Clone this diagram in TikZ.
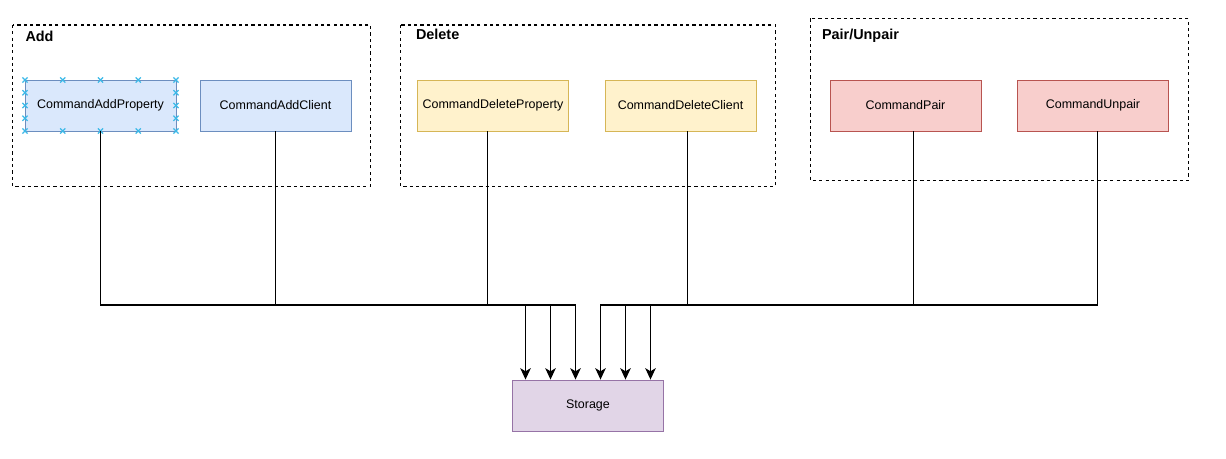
\documentclass[tikz,border=0pt]{standalone}
\usepackage{fontspec}
\setmainfont{Liberation Sans}
\usetikzlibrary{arrows.meta}
\definecolor{addfill}{HTML}{DAE8FC}
\definecolor{addline}{HTML}{6C8EBF}
\definecolor{delfill}{HTML}{FFF2CC}
\definecolor{delline}{HTML}{D6B656}
\definecolor{pairfill}{HTML}{F8CECC}
\definecolor{pairline}{HTML}{B85450}
\definecolor{storefill}{HTML}{E1D5E7}
\definecolor{storeline}{HTML}{9673A6}
\definecolor{selblue}{RGB}{60, 185, 232}
\def\boxw{3.02cm}
\def\boxh{1.02cm}
\newcommand{\selmark}[2]{\draw[selblue, line width=0.65pt] (#1-2.6,#2-2.6) -- (#1+2.6,#2+2.6) (#1-2.6,#2+2.6) -- (#1+2.6,#2-2.6);}

\begin{document}
\begin{tikzpicture}[x=0.02cm, y=-0.02cm, line width=0.6pt,
    cmd/.style={draw, line width=0.5pt, minimum width=\boxw, minimum height=\boxh, inner sep=0pt, font=\fontsize{7.1}{8}\selectfont},
    group/.style={draw, dash pattern=on 1.8pt off 1.8pt, line width=0.65pt},
    grouplabel/.style={anchor=base west, inner sep=0pt, font=\fontsize{8.2}{10}\selectfont\bfseries},
    link/.style={-{Stealth[length=6.5pt, width=6pt, inset=1.8pt]}, line width=0.7pt}]

    \useasboundingbox (0,0) rectangle (1226,459);

    % groups
    \draw[group] (12.5,25) rectangle (370.5,186.5);
    \draw[group] (400.5,25) rectangle (775.5,186.5);
    \draw[group] (810.5,18.5) rectangle (1188.5,180.5);

    \node[grouplabel] (addlbl) at (25,41.5) {Add};
    \node[grouplabel] (dellbl) at (415.5,40) {Delete};
    \node[grouplabel] (pairlbl) at (821.5,40) {Pair/Unpair};

    % commands
    \node[cmd, fill=addfill, draw=addline] (addprop) at (100.5,105.5) {CommandAddProperty};
    \node[cmd, fill=addfill, draw=addline] (addclient) at (275.5,105.5) {CommandAddClient};
    \node[cmd, fill=delfill, draw=delline] (delprop) at (493,105.5) {CommandDeleteProperty};
    \node[cmd, fill=delfill, draw=delline] (delclient) at (680.5,105.5) {CommandDeleteClient};
    \node[cmd, fill=pairfill, draw=pairline] (pair) at (905.5,105.5) {CommandPair};
    \node[cmd, fill=pairfill, draw=pairline] (unpair) at (1093,105.5) {CommandUnpair};

    \node[cmd, fill=storefill, draw=storeline] (store) at (588,405.5) {Storage};

    % selection handles
    \foreach \x in {25,62.75,100.5,138.25,176} {
        \selmark{\x}{80}
        \selmark{\x}{131}
    }
    \foreach \y in {92.75,105.5,118.25} {
        \selmark{25}{\y}
        \selmark{176}{\y}
    }

    % links
    \coordinate (bus) at (0,305);
    \draw[link] (addprop.south) |- ([xshift=-1.25cm]store.north |- bus) -- ([xshift=-1.25cm]store.north);
    \draw[link] (addclient.south) |- ([xshift=-0.75cm]store.north |- bus) -- ([xshift=-0.75cm]store.north);
    \draw[link] ([xshift=-0.11cm]delprop.south) |- ([xshift=-0.25cm]store.north |- bus) -- ([xshift=-0.25cm]store.north);
    \draw[link] ([xshift=0.14cm]delclient.south) |- ([xshift=0.25cm]store.north |- bus) -- ([xshift=0.25cm]store.north);
    \draw[link] ([xshift=0.16cm]pair.south) |- ([xshift=0.75cm]store.north |- bus) -- ([xshift=0.75cm]store.north);
    \draw[link] ([xshift=0.09cm]unpair.south) |- ([xshift=1.25cm]store.north |- bus) -- ([xshift=1.25cm]store.north);

\end{tikzpicture}
\end{document}
